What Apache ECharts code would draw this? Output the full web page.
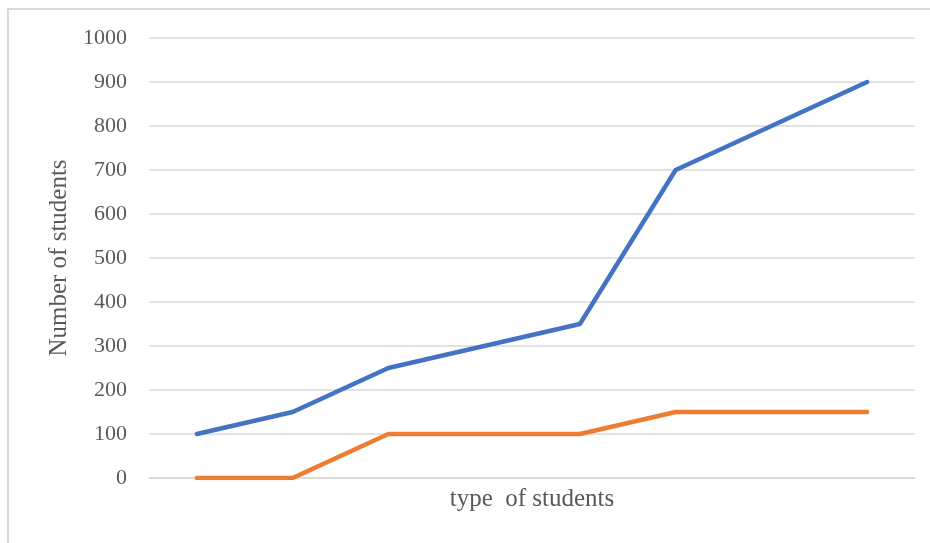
<!DOCTYPE html>
<html>
<head>
<meta charset="utf-8">
<script src="https://cdn.jsdelivr.net/npm/echarts@6/dist/echarts.min.js"></script>
<style>
  html, body { margin: 0; padding: 0; background: #fff; }
  #chart { width: 930px; height: 543px; }
</style>
</head>
<body>
<div id="chart"></div>
<script>
// datos del grafico de estudiantes
const categories = ['1', '2', '3', '4', '5', '6', '7', '8'];
const blueValues = [100, 150, 250, 300, 350, 700, 800, 900];
const orangeValues = [0, 0, 100, 100, 100, 150, 150, 150];

const myChart = echarts.init(document.getElementById('chart'));

const option = {
    animation: false,
    textStyle: { fontFamily: 'Liberation Serif' },
    graphic: [
        {
            type: 'rect',
            shape: { x: 8, y: 9, width: 940, height: 560 },
            style: { fill: 'none', stroke: '#d9d9d9', lineWidth: 2 },
            silent: true
        }
    ],
    grid: {
        left: 149,
        right: 15,
        top: 38,
        bottom: 65
    },
    xAxis: {
        type: 'category',
        data: categories,
        boundaryGap: true,
        name: 'type  of students',
        nameLocation: 'middle',
        nameGap: 9,
        nameTextStyle: { color: '#595959', fontSize: 25, fontFamily: 'Liberation Serif' },
        axisLine: { lineStyle: { color: '#d9d9d9', width: 1.5 } },
        axisTick: { show: false },
        axisLabel: { show: false }
    },
    yAxis: {
        type: 'value',
        min: 0,
        max: 1000,
        interval: 100,
        name: 'Number of students',
        nameLocation: 'middle',
        nameGap: 76,
        nameTextStyle: { color: '#595959', fontSize: 25, fontFamily: 'Liberation Serif' },
        axisLine: { show: false },
        axisTick: { show: false },
        axisLabel: {
            color: '#595959',
            fontSize: 22,
            margin: 22,
            fontFamily: 'Liberation Serif',
            formatter: v => String(v)
        },
        splitLine: { lineStyle: { color: '#d9d9d9', width: 1.5 } }
    },
    series: [
        {
            type: 'line',
            data: blueValues,
            showSymbol: false,
            lineStyle: { color: '#4472C4', width: 4.5, cap: 'round', join: 'round' },
            itemStyle: { color: '#4472C4' }
        },
        {
            type: 'line',
            data: orangeValues,
            showSymbol: false,
            lineStyle: { color: '#ED7D31', width: 4.5, cap: 'round', join: 'round' },
            itemStyle: { color: '#ED7D31' }
        }
    ]
};

myChart.setOption(option);
</script>
</body>
</html>
